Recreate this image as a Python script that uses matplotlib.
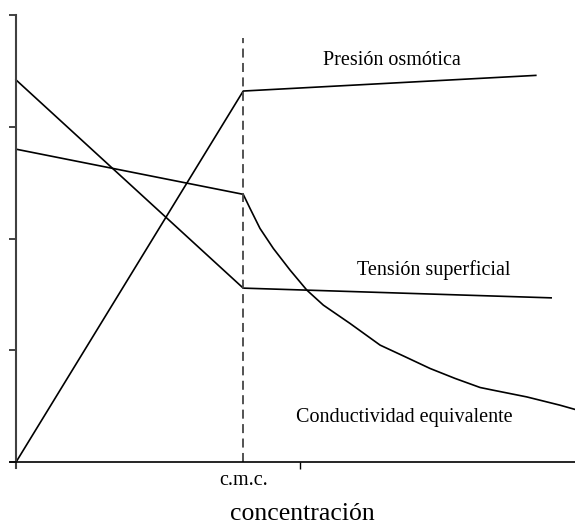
import numpy as np
from matplotlib import pyplot as plt

plt.rcParams["font.family"] = ["Liberation Serif", "DejaVu Serif"]

# concentracion (eje x) y magnitud relativa (eje y)
cmc = 0.80
cmc_top = 3.79

presion_x = [0.0, 0.80, 1.83]
presion_y = [0.0, 3.32, 3.46]

tension_x = [0.0, 0.80, 1.884]
tension_y = [3.42, 1.557, 1.47]

conduct_x = [0.0, 0.800, 0.824, 0.859, 0.906, 0.965, 1.024, 1.082, 1.176,
             1.282, 1.370, 1.458, 1.546, 1.634, 1.680, 1.798, 1.915, 1.968]
conduct_y = [2.80, 2.396, 2.270, 2.091, 1.912, 1.718, 1.539, 1.405, 1.241,
             1.047, 0.943, 0.838, 0.749, 0.668, 0.644, 0.584, 0.510, 0.472]

yticks = [0, 1, 2, 3, 4]
xticks = [1.0]

fig = plt.figure(figsize=(5.75, 5.25), dpi=100)
ax = fig.add_axes([0.0179, 0.109, 0.9821, 0.8624])

ax.plot(presion_x, presion_y, color="black", lw=1.2)
ax.plot(tension_x, tension_y, color="black", lw=1.2)
ax.plot(conduct_x, conduct_y, color="black", lw=1.2, solid_joinstyle="round")
ax.plot([cmc, cmc], [0, cmc_top], color="#444444", lw=1.3, dashes=(5, 3))

ax.set_xlim(-0.02, 1.968)
ax.set_ylim(-0.05, 4.0)

ax.spines["left"].set_position(("data", 0))
ax.spines["bottom"].set_position(("data", 0))
ax.spines["top"].set_visible(False)
ax.spines["right"].set_visible(False)
ax.spines["left"].set_color("#404040")
ax.spines["left"].set_linewidth(1.5)
ax.spines["bottom"].set_linewidth(1.2)

ax.set_yticks(yticks)
ax.set_yticklabels([])
ax.set_xticks(xticks)
ax.set_xticklabels([])
ax.tick_params(axis="y", direction="out", length=5, width=1.2, color="#222222")
ax.tick_params(axis="x", direction="out", length=5, width=1.0)

ax.text(1.081, 3.59, "Presión osmótica", fontsize=14.5, va="center", ha="left")
ax.text(1.20, 1.72, "Tensión superficial", fontsize=14.5, va="center", ha="left")
ax.text(0.986, 0.40, "Conductividad equivalente", fontsize=14.5, va="center", ha="left")
ax.text(cmc, -0.16, "c.m.c.", fontsize=14.5, va="center", ha="center")

fig.text(302 / 575, 1 - 520 / 525, "concentración", fontsize=18.5, va="baseline", ha="center")

fig.savefig("out.png", dpi=100)
